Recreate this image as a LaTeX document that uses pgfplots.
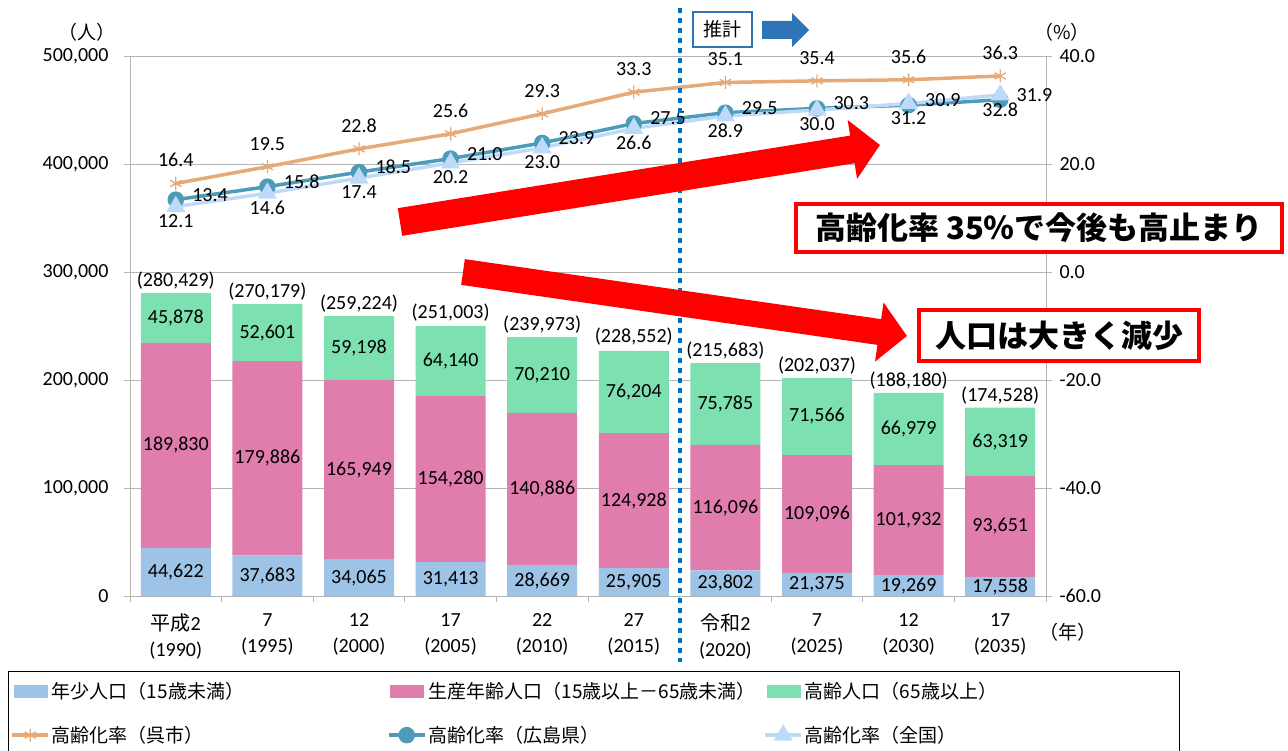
\documentclass[border=0pt]{standalone}
\usepackage{pgfplots}
\pgfplotsset{compat=1.18}
\usepackage{pgfplotstable}
\usepackage{fontspec}
\setmainfont{Carlito}
\newfontfamily\jp{Noto Sans CJK JP}
\newfontfamily\jpb{Noto Sans CJK JP}[UprightFont=* Black]
\usetikzlibrary{arrows.meta}
\definecolor{young}{RGB}{157,195,230}
\definecolor{work}{RGB}{224,125,172}
\definecolor{old}{RGB}{125,224,176}
\definecolor{kure}{RGB}{230,170,120}
\definecolor{hiro}{RGB}{75,155,185}
\definecolor{nat}{RGB}{190,218,248}
\definecolor{gridc}{RGB}{180,180,180}
\definecolor{dotblue}{RGB}{0,112,192}
\definecolor{boxblue}{RGB}{47,117,181}
\newcommand{\fs}{\fontsize{20}{26}\selectfont}
\newcommand{\js}{\jp\fontsize{19}{23}\selectfont}

\pgfplotstableread{
x young work old total
0 44622 189830 45878 280429
1 37683 179886 52601 270179
2 34065 165949 59198 259224
3 31413 154280 64140 251003
4 28669 140886 70210 239973
5 25905 124928 76204 228552
6 23802 116096 75785 215683
7 21375 109096 71566 202037
8 19269 101932 66979 188180
9 17558 93651 63319 174528
}\pop

\pgfplotstableread{
x kure hiro nat
0 16.4 13.4 12.1
1 19.5 15.8 14.6
2 22.8 18.5 17.4
3 25.6 21.0 20.2
4 29.3 23.9 23.0
5 33.3 27.5 26.6
6 35.1 29.5 28.9
7 35.4 30.3 30.0
8 35.6 30.9 31.2
9 36.3 31.9 32.8
}\rate

\pgfplotsset{base/.style={at={(130pt,-596pt)}, anchor=south west, scale only axis,
  width=916pt, height=540pt, xmin=-0.5, xmax=9.5,
  /pgf/number format/assume math mode=true}}

\begin{document}
\begin{tikzpicture}
\useasboundingbox (0pt,0pt) rectangle (1288pt,-751pt);

% bars
\begin{axis}[base, ymin=0, ymax=500000,
  ybar stacked, bar width=70pt,
  axis lines*=left, axis line style={gridc, line width=1pt},
  ytick={0,100000,200000,300000,400000,500000},
  ymajorgrids, grid style={gridc, line width=1pt},
  scaled y ticks=false,
  yticklabel style={xshift=-12pt, /pgf/number format/.cd, fixed, precision=0, 1000 sep={,}},
  tick label style={font=\fs, black},
  tick style={gridc, line width=1pt}, tick align=outside, major tick length=6pt,
  xtick={-0.5,0.5,...,9.5}, xticklabels={},
  extra x ticks={0,1,2,3,4,5,6,7,8,9},
  extra x tick labels={{{\jp 平成}2\\(1990)},{7\\(1995)},{12\\(2000)},{17\\(2005)},{22\\(2010)},{27\\(2015)},{{\jp 令和}2\\(2020)},{7\\(2025)},{12\\(2030)},{17\\(2035)}},
  extra x tick style={major tick length=0pt, xmajorgrids=false, xticklabel style={align=center, font=\fs, yshift=-14pt}},
  ]
\addplot[fill=young, draw=none] table[x=x,y=young]{\pop};
\addplot[fill=work, draw=none] table[x=x,y=work]{\pop};
\addplot[fill=old, draw=none] table[x=x,y=old]{\pop};
\end{axis}

% bar labels
\begin{axis}[base, ymin=0, ymax=500000, hide axis,
  /pgf/number format/.cd, fixed, precision=0, 1000 sep={,}]
\addplot[draw=none, mark=none, nodes near coords, point meta=explicit,
  every node near coord/.append style={anchor=center, font=\fs, black}]
  table[x=x, y expr=\thisrow{young}/2, meta=young]{\pop};
\addplot[draw=none, mark=none, nodes near coords, point meta=explicit,
  every node near coord/.append style={anchor=center, font=\fs, black}]
  table[x=x, y expr=\thisrow{young}+\thisrow{work}/2, meta=work]{\pop};
\addplot[draw=none, mark=none, nodes near coords, point meta=explicit,
  every node near coord/.append style={anchor=center, font=\fs, black}]
  table[x=x, y expr=\thisrow{young}+\thisrow{work}+\thisrow{old}/2, meta=old]{\pop};
\addplot[draw=none, mark=none, nodes near coords={(\pgfmathprintnumber{\pgfplotspointmeta})}, point meta=explicit,
  every node near coord/.append style={anchor=south, yshift=0pt, font=\fs, black}]
  table[x=x, y=total, meta=total]{\pop};
\end{axis}

% rates
\begin{axis}[base, ymin=-60, ymax=40,
  axis y line*=right, axis x line=none,
  axis line style={gridc, line width=1pt},
  ytick={-60,-40,-20,0,20,40},
  /pgf/number format/.cd, fixed, fixed zerofill, precision=1, /pgfplots/.cd,
  tick label style={font=\fs, black},
  yticklabel style={xshift=4pt},
  tick style={gridc, line width=1pt}, tick align=outside, major tick length=6pt,
  legend image code/.code={\draw[mark repeat=2, mark phase=2, #1] plot coordinates {(0pt,0pt) (18pt,0pt) (36pt,0pt)};},
  legend columns=3,
  legend style={at={(-0.1332,-0.1389)}, anchor=north west, draw=black, line width=1pt,
    font=\js, row sep=22pt, inner xsep=2pt, inner ysep=9pt, cells={anchor=west},
    /tikz/every even column/.append style={column sep=0pt}},
  ]
\addlegendimage{legend image code/.code={\fill[young] (2pt,-6pt) rectangle (35pt,6pt);}}
\addlegendentry{\makebox[333pt][l]{年少人口（15歳未満）}}
\addlegendimage{legend image code/.code={\fill[work] (2pt,-6pt) rectangle (35pt,6pt);}}
\addlegendentry{\makebox[333pt][l]{生産年齢人口（15歳以上－65歳未満）}}
\addlegendimage{legend image code/.code={\fill[old] (2pt,-6pt) rectangle (35pt,6pt);}}
\addlegendentry{\makebox[370pt][l]{高齢人口（65歳以上）}}
\addplot[kure, line width=3.5pt, mark=asterisk, mark size=6.5pt, mark options={line width=1.3pt, solid}]
  table[x=x,y=kure]{\rate};
\addlegendentry{高齢化率（呉市）}
\addplot[hiro, line width=3.5pt, mark=*, mark size=6.5pt]
  table[x=x,y=hiro]{\rate};
\addlegendentry{高齢化率（広島県）}
\addplot[nat, line width=3.5pt, mark=triangle*, mark size=7.5pt]
  table[x=x,y=nat]{\rate};
\addlegendentry{高齢化率（全国）}
\addplot[forget plot, draw=none, mark=none, nodes near coords, point meta=explicit,
  every node near coord/.append style={anchor=south, yshift=13pt, font=\fs, black}]
  table[x=x,y=kure,meta=kure]{\rate};
\addplot[forget plot, draw=none, mark=none, nodes near coords, point meta=explicit,
  every node near coord/.append style={anchor=west, xshift=13pt, yshift=5pt, font=\fs, black}]
  table[x=x,y=hiro,meta=hiro]{\rate};
\addplot[forget plot, draw=none, mark=none, nodes near coords, point meta=explicit,
  every node near coord/.append style={anchor=north, yshift=-4pt, font=\fs, black}]
  table[x=x,y=nat,meta=nat]{\rate};
\end{axis}

% decorations
\draw[dotblue, line width=4pt, dash pattern=on 5pt off 5pt] (680pt,-8pt) -- (680pt,-662pt);
\node[draw=boxblue, line width=1.5pt, fill=white, minimum width=59pt, minimum height=35pt, font=\js] at (722.5pt,-29.5pt) {推計};
\fill[boxblue] (762pt,-21pt) -- (792pt,-21pt) -- (792pt,-13pt) -- (809pt,-30pt) -- (792pt,-47pt) -- (792pt,-39pt) -- (762pt,-39pt) -- cycle;
\node[font=\js] at (87pt,-32pt) {（人）};
\node[font=\js] at (1062pt,-32pt) {（\%）};
\node[font=\js] at (1068pt,-632pt) {（年）};

\draw[red, line width=28pt, -{Triangle[length=28pt, width=58pt]}] (400pt,-222pt) -- (880pt,-145pt);
\draw[red, line width=26pt, -{Triangle[length=28pt, width=58pt]}] (463pt,-272pt) -- (907pt,-336pt);

\node[draw=red, line width=4pt, fill=white, minimum width=486pt, minimum height=48pt, inner sep=0pt,
  font=\jpb\fontsize{31}{36}\selectfont] at (1039pt,-228pt) {高齢化率 35％で今後も高止まり};
\node[draw=red, line width=4pt, fill=white, minimum width=280pt, minimum height=51pt, inner sep=0pt,
  font=\jpb\fontsize{31}{36}\selectfont] at (1059pt,-335.5pt) {人口は大きく減少};
\end{tikzpicture}
\end{document}
